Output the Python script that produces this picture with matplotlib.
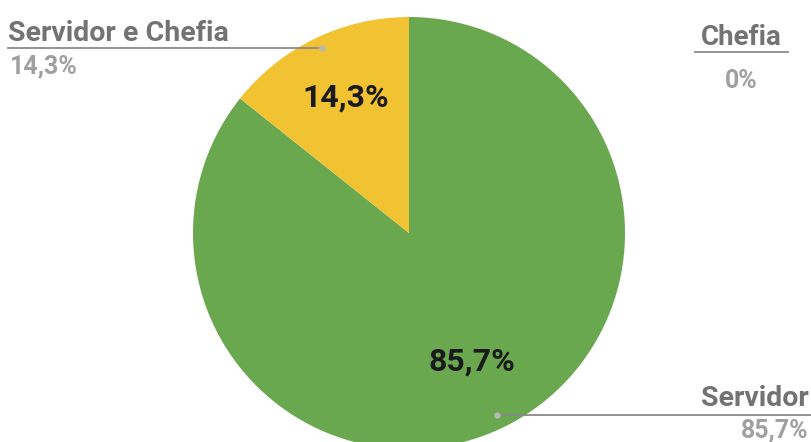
import matplotlib.pyplot as plt

# answer shares (%), drawn clockwise from 12 o'clock
labels = ["Servidor", "Servidor e Chefia", "Chefia"]
values = [85.7, 14.3, 0.0]
value_text = ["85,7%", "14,3%", "0%"]
colors = ["#6aa84f", "#f1c232", "#4a86e8"]

W, H = 812, 442
fig = plt.figure(figsize=(W / 100, H / 100), dpi=100)
ax = fig.add_axes([0, 0, 1, 1])

cx, cy, r = 409, H - 233, 216

ax.pie(
    values, colors=colors, startangle=90, counterclock=False,
    center=(cx, cy), radius=r, frame=True,
    wedgeprops=dict(linewidth=0),
)
ax.set_xlim(0, W)
ax.set_ylim(0, H)
ax.axis("off")

font = "Roboto"
dark = "#1a1a1a"
gray = "#737373"
light = "#a0a0a0"
lab_size = 20.5
val_size = 18

# values inside the slices
ax.text(346, H - 98, value_text[1], ha="center", va="center",
        fontsize=23, fontweight="bold", color=dark, family=font)
ax.text(472, H - 362, value_text[0], ha="center", va="center",
        fontsize=23, fontweight="bold", color=dark, family=font)

line_kw = dict(color="#8a8a8a", linewidth=1.3)
dot_kw = dict(marker="o", color="#b8b8b8", markersize=3.5)

# Servidor e Chefia (left)
ax.plot([8, 322], [H - 48, H - 48], **line_kw)
ax.plot([322], [H - 48], **dot_kw)
ax.text(8, H - 41, labels[1], ha="left", va="baseline",
        fontsize=lab_size, fontweight="bold", color=gray, family=font)
ax.text(10, H - 73, value_text[1], ha="left", va="baseline",
        fontsize=val_size, fontweight="bold", color=light, family=font)

# Chefia (right, top)
ax.plot([695, 788], [H - 52, H - 52], **line_kw)
ax.text(741, H - 45, labels[2], ha="center", va="baseline",
        fontsize=20, fontweight="bold", color=gray, family=font)
ax.text(741, H - 88, value_text[2], ha="center", va="baseline",
        fontsize=val_size, fontweight="bold", color=light, family=font)

# Servidor (right, bottom)
ax.plot([497, W], [H - 415, H - 415], **line_kw)
ax.plot([497], [H - 415], **dot_kw)
ax.text(W - 3, H - 406, labels[0], ha="right", va="baseline",
        fontsize=lab_size, fontweight="bold", color=gray, family=font)
ax.text(W - 3, H - 437, value_text[0], ha="right", va="baseline",
        fontsize=val_size, fontweight="bold", color=light, family=font)

fig.savefig("out.png", dpi=100, facecolor="white")
